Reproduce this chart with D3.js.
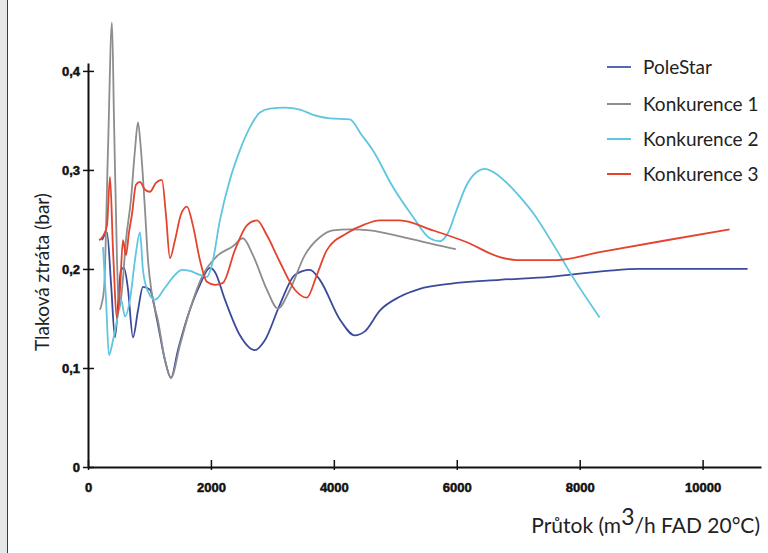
<!DOCTYPE html>
<html>
<head>
<meta charset="utf-8">
<script src="https://cdn.jsdelivr.net/npm/d3@7"></script>
<style>
  html, body { margin: 0; padding: 0; background: #fff; }
  svg { display: block; }
</style>
</head>
<body>
<svg id="chart"></svg>
<script>
// values: [flow m3/h, pressure loss bar]
const poleStar = [
  [228, 0.229], [309, 0.237], [375, 0.185], [439, 0.131], [537, 0.199], [585, 0.201],
  [650, 0.180], [732, 0.131], [813, 0.158], [894, 0.182], [1008, 0.179], [1122, 0.149],
  [1252, 0.108], [1350, 0.090], [1463, 0.118], [1659, 0.159], [1821, 0.184], [1984, 0.201],
  [2065, 0.197], [2228, 0.169], [2472, 0.133], [2715, 0.118], [2878, 0.128], [3122, 0.164],
  [3366, 0.194], [3610, 0.199], [3772, 0.189], [4098, 0.149], [4341, 0.133], [4504, 0.137],
  [4748, 0.158], [5073, 0.172], [5398, 0.180], [5886, 0.185], [6699, 0.189], [7512, 0.192],
  [8439, 0.198], [8975, 0.200], [10732, 0.200]
];
const konkurence1 = [
  [195, 0.159], [260, 0.179], [325, 0.320], [390, 0.449], [423, 0.351], [472, 0.209],
  [504, 0.159], [553, 0.179], [618, 0.229], [699, 0.270], [764, 0.320], [813, 0.348],
  [862, 0.320], [927, 0.260], [976, 0.209], [1041, 0.174], [1138, 0.148], [1252, 0.108],
  [1350, 0.090], [1496, 0.123], [1659, 0.159], [1870, 0.194], [2098, 0.213], [2358, 0.223],
  [2520, 0.231], [2683, 0.214], [2911, 0.179], [3089, 0.160], [3285, 0.179], [3528, 0.214],
  [3772, 0.232], [3984, 0.239], [4260, 0.240], [4585, 0.239], [5073, 0.233], [5610, 0.225],
  [5984, 0.220]
];
const konkurence2 = [
  [244, 0.222], [293, 0.169], [341, 0.113], [407, 0.128], [472, 0.148], [537, 0.169],
  [602, 0.152], [683, 0.169], [764, 0.209], [846, 0.237], [894, 0.199], [976, 0.177],
  [1089, 0.169], [1252, 0.181], [1415, 0.194], [1528, 0.199], [1659, 0.198], [1821, 0.194],
  [1935, 0.192], [2016, 0.204], [2146, 0.249], [2309, 0.290], [2472, 0.320], [2634, 0.343],
  [2797, 0.358], [2959, 0.362], [3203, 0.363], [3447, 0.361], [3691, 0.355], [3935, 0.352],
  [4260, 0.351], [4455, 0.335], [4634, 0.320], [4959, 0.283], [5284, 0.253], [5561, 0.231],
  [5724, 0.228], [5854, 0.236], [6000, 0.260], [6163, 0.285], [6325, 0.298], [6455, 0.301],
  [6618, 0.297], [6813, 0.287], [7024, 0.273], [7236, 0.257], [7626, 0.219], [7886, 0.192],
  [8325, 0.151]
];
const konkurence3 = [
  [179, 0.229], [244, 0.233], [309, 0.244], [358, 0.293], [407, 0.219], [472, 0.151],
  [520, 0.179], [569, 0.229], [618, 0.214], [667, 0.237], [715, 0.255], [780, 0.285],
  [846, 0.288], [927, 0.280], [1008, 0.278], [1106, 0.287], [1203, 0.290], [1268, 0.255],
  [1333, 0.211], [1415, 0.229], [1512, 0.255], [1610, 0.263], [1707, 0.244], [1821, 0.209],
  [1935, 0.187], [2065, 0.184], [2195, 0.186], [2390, 0.219], [2585, 0.244], [2748, 0.249],
  [2911, 0.234], [3122, 0.207], [3366, 0.179], [3561, 0.171], [3724, 0.194], [3886, 0.219],
  [4211, 0.236], [4504, 0.245], [4748, 0.249], [5073, 0.249], [5610, 0.239], [6163, 0.227],
  [6699, 0.212], [6976, 0.209], [7626, 0.209], [8325, 0.217], [9415, 0.229], [10439, 0.240]
];

const seriesNames = ['PoleStar', 'Konkurence 1', 'Konkurence 2', 'Konkurence 3'];
const seriesColors = ['#3c4a9c', '#8d8d8d', '#5ec6df', '#e4432d'];
const legendColors = ['#5668b4', '#8d8d8d', '#5ec6df', '#e4432d'];
const xTicks = [0, 2000, 4000, 6000, 8000, 10000];
const yTicks = [0, 0.1, 0.2, 0.3, 0.4];

const width = 768;
const height = 553;

const svg = d3.select('#chart').attr('width', width).attr('height', height);

// gray strip on the left edge
svg.append('rect').attr('x', 0).attr('y', 0).attr('width', 7).attr('height', height).attr('fill', '#e6e7e9');
svg.append('line').attr('x1', 7.5).attr('x2', 7.5).attr('y1', 0).attr('y2', height)
  .attr('stroke', '#3a3a3a').attr('stroke-width', 1);

const x = d3.scaleLinear().domain([0, 10950]).range([88, 761]);
const y = d3.scaleLinear().domain([0, 0.408]).range([467, 63]);

const tickFont = '"Liberation Sans", Arial, sans-serif';

// x axis
const xAxis = svg.append('g')
  .attr('transform', `translate(0,${y(0)})`)
  .call(d3.axisBottom(x).tickValues(xTicks).tickSizeOuter(0).tickFormat(d3.format('d')));
xAxis.select('.domain').attr('stroke', '#111').attr('stroke-width', 2);
xAxis.selectAll('.tick line').attr('y1', -7).attr('y2', 3).attr('stroke', '#111').attr('stroke-width', 1.5);
xAxis.selectAll('.tick text')
  .attr('y', 20).attr('dy', '0.35em')
  .attr('font-family', tickFont).attr('font-weight', 'bold').attr('font-size', 13)
  .attr('fill', '#111').attr('stroke', '#111').attr('stroke-width', 0.5);

// y axis
const yAxis = svg.append('g')
  .attr('transform', `translate(${x(0)},0)`)
  .call(d3.axisLeft(y).tickValues(yTicks).tickSizeOuter(0)
    .tickFormat(d => d === 0 ? '0' : d3.format('.1f')(d).replace('.', ',')));
yAxis.select('.domain').attr('stroke', '#111').attr('stroke-width', 2);
yAxis.selectAll('.tick line').attr('x1', -5).attr('x2', 6).attr('stroke', '#111').attr('stroke-width', 1.5);
yAxis.selectAll('.tick text')
  .attr('x', -8)
  .attr('font-family', tickFont).attr('font-weight', 'bold').attr('font-size', 13)
  .attr('fill', '#111').attr('stroke', '#111').attr('stroke-width', 0.5);

// lines
const line = d3.line()
  .x(d => x(d[0]))
  .y(d => y(d[1]))
  .curve(d3.curveMonotoneX);

[poleStar, konkurence1, konkurence2, konkurence3].forEach((data, i) => {
  svg.append('path')
    .datum(data)
    .attr('fill', 'none')
    .attr('stroke', seriesColors[i])
    .attr('stroke-width', 1.8)
    .attr('stroke-linejoin', 'round')
    .attr('d', line);
});

// legend
const legendY = [67, 104, 139, 174];
const legend = svg.append('g');
seriesNames.forEach((name, i) => {
  legend.append('line')
    .attr('x1', 607).attr('x2', 631)
    .attr('y1', legendY[i]).attr('y2', legendY[i])
    .attr('stroke', legendColors[i]).attr('stroke-width', 2);
  legend.append('text')
    .attr('x', 643).attr('y', legendY[i]).attr('dy', '0.35em')
    .attr('font-family', 'Lato, "Open Sans", sans-serif')
    .attr('font-size', 19).attr('fill', '#222')
    .text(name);
});

// axis titles
const titleFont = 'Lato, "Open Sans", sans-serif';
svg.append('text')
  .attr('transform', 'translate(49,272) rotate(-90)')
  .attr('text-anchor', 'middle')
  .attr('font-family', titleFont).attr('font-size', 19).attr('fill', '#222')
  .text('Tlaková ztráta (bar)');

const xTitle = svg.append('text')
  .attr('x', 760).attr('y', 533)
  .attr('text-anchor', 'end')
  .attr('font-family', titleFont).attr('font-size', 21).attr('fill', '#222');
xTitle.append('tspan').text('Průtok (m');
xTitle.append('tspan').attr('dy', -8).attr('font-size', 23).text('3');
xTitle.append('tspan').attr('dy', 8).text('/h FAD 20°C)');
</script>
</body>
</html>
